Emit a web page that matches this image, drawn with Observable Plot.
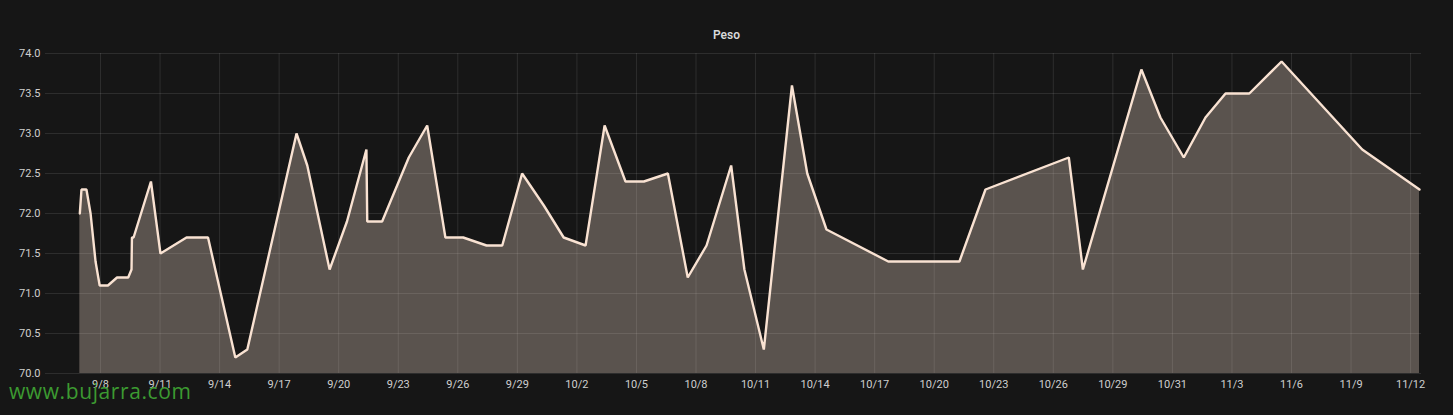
<!DOCTYPE html>
<html>
<head>
<meta charset="utf-8">
<script src="https://cdn.jsdelivr.net/npm/d3@7"></script>
<script src="https://cdn.jsdelivr.net/npm/@observablehq/plot@0.6"></script>
<style>
  html, body { margin: 0; padding: 0; background: #161616; }
  body { width: 1453px; height: 415px; position: relative; overflow: hidden; font-family: Roboto, "Noto Sans", sans-serif; }
  #title { position: absolute; top: 28px; left: 0; width: 1453px; text-align: center; color: #d8d9da; font-size: 12px; font-weight: 600; }
  #chart { position: absolute; top: 40px; left: 0; }
  #wm { position: absolute; left: 9px; top: 383px; color: #3c9a31; font-family: "Open Sans", sans-serif; font-size: 21px; line-height: 16px; letter-spacing: 0.6px; }
</style>
</head>
<body>
<div id="title">Peso</div>
<div id="chart"></div>
<div id="wm">www.bujarra.com</div>
<script>
// Weight readings (UTC timestamps) and values in kg
const times = [
  "2019-09-06T23:00Z","2019-09-07T01:00Z","2019-09-07T07:00Z","2019-09-07T12:00Z","2019-09-07T18:00Z",
  "2019-09-07T23:00Z","2019-09-08T09:00Z","2019-09-08T20:00Z","2019-09-09T09:30Z","2019-09-09T13:30Z",
  "2019-09-09T14:00Z","2019-09-09T16:00Z","2019-09-10T13:00Z","2019-09-11T00:30Z","2019-09-12T08:00Z",
  "2019-09-13T10:00Z","2019-09-14T19:00Z","2019-09-15T09:30Z","2019-09-17T21:00Z","2019-09-18T10:00Z",
  "2019-09-19T13:00Z","2019-09-20T10:00Z","2019-09-21T09:30Z","2019-09-21T10:30Z","2019-09-22T04:30Z",
  "2019-09-23T12:45Z","2019-09-24T11:00Z","2019-09-25T09:00Z","2019-09-26T06:30Z","2019-09-27T10:45Z",
  "2019-09-28T05:45Z","2019-09-29T05:45Z","2019-09-30T08:00Z","2019-10-01T08:00Z","2019-10-02T10:30Z",
  "2019-10-03T09:30Z","2019-10-04T10:45Z","2019-10-05T09:00Z","2019-10-06T14:00Z","2019-10-07T14:00Z",
  "2019-10-08T12:45Z","2019-10-09T18:30Z","2019-10-10T10:30Z","2019-10-11T10:00Z","2019-10-12T20:00Z",
  "2019-10-13T14:30Z","2019-10-14T13:45Z","2019-10-17T16:30Z","2019-10-21T06:30Z","2019-10-22T14:00Z",
  "2019-10-26T18:45Z","2019-10-27T11:45Z","2019-10-30T10:30Z","2019-10-31T09:30Z","2019-11-01T13:45Z",
  "2019-11-02T16:00Z","2019-11-03T16:15Z","2019-11-04T21:00Z","2019-11-06T12:00Z","2019-11-10T13:30Z",
  "2019-11-13T10:45Z"
];
const weights = [
  72.0, 72.3, 72.3, 72.0, 71.4,
  71.1, 71.1, 71.2, 71.2, 71.3,
  71.7, 71.7, 72.4, 71.5, 71.7,
  71.7, 70.2, 70.3, 73.0, 72.6,
  71.3, 71.9, 72.8, 71.9, 71.9,
  72.7, 73.1, 71.7, 71.7, 71.6,
  71.6, 72.5, 72.1, 71.7, 71.6,
  73.1, 72.4, 72.4, 72.5, 71.2,
  71.6, 72.6, 71.3, 70.3, 73.6,
  72.5, 71.8, 71.4, 71.4, 72.3,
  72.7, 71.3, 73.8, 73.2, 72.7,
  73.2, 73.5, 73.5, 73.9, 72.8,
  72.3
];
// x axis ticks (every 3 days) and their labels as displayed
const tickTimes = [
  "2019-09-08T00:00Z","2019-09-11T00:00Z","2019-09-14T00:00Z","2019-09-17T00:00Z","2019-09-20T00:00Z",
  "2019-09-23T00:00Z","2019-09-26T00:00Z","2019-09-29T00:00Z","2019-10-02T00:00Z","2019-10-05T00:00Z",
  "2019-10-08T00:00Z","2019-10-11T00:00Z","2019-10-14T00:00Z","2019-10-17T00:00Z","2019-10-20T00:00Z",
  "2019-10-23T00:00Z","2019-10-26T00:00Z","2019-10-29T00:00Z","2019-11-01T00:00Z","2019-11-04T00:00Z",
  "2019-11-07T00:00Z","2019-11-10T00:00Z","2019-11-13T00:00Z"
];
const tickLabels = [
  "9/8","9/11","9/14","9/17","9/20","9/23","9/26","9/29","10/2","10/5","10/8","10/11",
  "10/14","10/17","10/20","10/23","10/26","10/29","10/31","11/3","11/6","11/9","11/12"
];
const yTicks = [70.0, 70.5, 71.0, 71.5, 72.0, 72.5, 73.0, 73.5, 74.0];
const timeRange = ["2019-09-05T05:30Z", "2019-11-13T13:10Z"];

const data = times.map((t, i) => ({date: new Date(t), v: weights[i]}));
const ticks = tickTimes.map(t => new Date(t));
const labelMap = new Map(ticks.map((d, i) => [+d, tickLabels[i]]));

const lineColor = "#f9e2d2";
const chart = Plot.plot({
  width: 1453,
  height: 375,
  marginLeft: 45,
  marginRight: 32,
  marginTop: 13,
  marginBottom: 42,
  style: {background: "#161616", color: "#cfcfcf", fontSize: "11px", fontFamily: "Roboto, 'Noto Sans', sans-serif"},
  x: {type: "utc", domain: timeRange.map(t => new Date(t)), label: null},
  y: {domain: [70, 74], label: null},
  marks: [
    Plot.gridY(yTicks, {stroke: "#ffffff", strokeOpacity: 0.1}),
    Plot.gridX(ticks, {stroke: "#ffffff", strokeOpacity: 0.1}),
    Plot.areaY(data, {x: "date", y1: 70, y2: "v", fill: lineColor, fillOpacity: 0.3}),
    Plot.lineY(data, {x: "date", y: "v", stroke: lineColor, strokeWidth: 2.4, strokeLinejoin: "miter"}),
    Plot.axisY(yTicks, {tickSize: 0, tickPadding: 5, label: null, tickFormat: d => d.toFixed(1), fill: "#cfcfcf"}),
    Plot.axisX(ticks, {tickSize: 0, tickPadding: 7, label: null, tickFormat: d => labelMap.get(+d), fill: "#cfcfcf"})
  ]
});
document.getElementById("chart").appendChild(chart);
</script>
</body>
</html>
